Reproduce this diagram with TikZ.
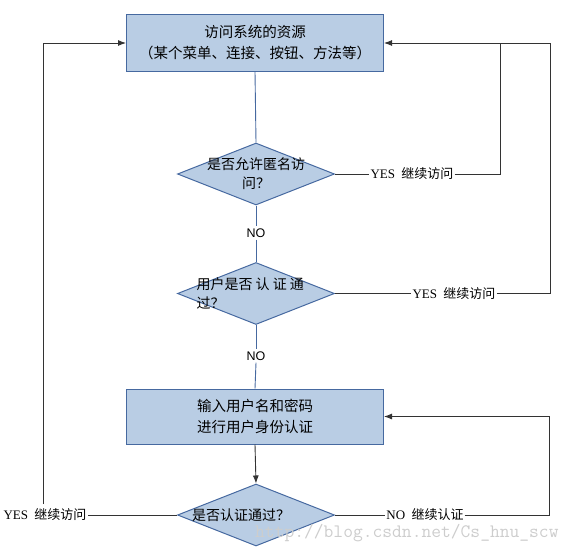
\documentclass[tikz,border=0pt]{standalone}
\usepackage{fontspec}
\setmainfont{Liberation Serif}
\setsansfont{Liberation Sans}
\newfontfamily\cjk{Noto Sans CJK SC}
\usetikzlibrary{shapes.geometric, positioning, calc, arrows.meta}
\definecolor{cFill}{RGB}{185,205,228}
\definecolor{cEdge}{RGB}{70,105,160}
\definecolor{cMark}{RGB}{205,205,205}

\tikzset{
    stepbox/.style={draw=cEdge, fill=cFill, line width=1pt, minimum width=257pt, minimum height=56pt, inner sep=0pt},
    ask/.style={draw=cEdge, fill=cFill, line width=1pt, diamond, minimum width=157pt, minimum height=62pt, inner sep=0pt},
    boxtext/.style={font=\cjk\fontsize{14.5}{21}\selectfont, align=center},
    asktext/.style={font=\cjk\fontsize{14}{19}\selectfont},
    tag/.style={font=\fontsize{13}{13}\selectfont, inner sep=1pt},
    notag/.style={font=\sffamily\fontsize{12.5}{12.5}\selectfont, inner sep=2pt},
    wire/.style={line width=0.9pt, draw=black!80},
    flow/.style={line width=0.9pt, draw=cEdge},
}

\begin{document}
\begin{tikzpicture}[x=1pt, y=-1pt, >={Latex[length=8pt,width=6pt]}]

    \useasboundingbox (0,0) rectangle (575,551);

    % --- Boxes ---
    \node[stepbox] (res) at (255, 43) {};
    \node[boxtext] at (res) {访问系统的资源\\（某个菜单、连接、按钮、方法等）};

    \node[stepbox, minimum height=55pt] (login) at (255, 416.5) {};
    \node[boxtext] at (login) {输入用户名和密码\\进行用户身份认证};

    % --- Decisions ---
    \node[ask] (anon) at (256, 174) {};
    \node[asktext, align=center] at (anon) {是否允许匿名访\\问？};

    \node[ask] (auth) at (256, 293.5) {};
    \node[asktext, align=left, anchor=west] at (193, 293) {用户是否 认 证 通\\过？};

    \node[ask] (check) at (256, 515) {};
    \node[asktext, anchor=center] at (241, 515) {是否认证通过？};

    % --- Labels ---
    \node[tag] (yes1) at (412, 174) {YES\hspace{3pt} {\cjk 继续访问}};
    \node[tag] (yes2) at (454, 293.5) {YES\hspace{3pt} {\cjk 继续访问}};
    \node[tag] (yes3) at (45, 515) {YES\hspace{3pt} {\cjk 继续访问}};
    \node[tag] (no3) at (425, 515) {NO\hspace{3pt} {\cjk 继续认证}};
    \node[notag] (no1) at (256, 233) {NO};
    \node[notag] (no2) at (256, 356) {NO};

    \coordinate (r1) at ([xshift=116]res.east);
    \coordinate (r2) at ([xshift=166]res.east);
    \coordinate (r3) at ([xshift=165]login.east);
    \coordinate (l1) at (43, 504);

    % --- Main flow ---
    \draw[flow] (res.south) -- (anon.north);
    \draw[flow] (anon.south) -- (no1.north);
    \draw[flow] (no1.south) -- (auth.north);
    \draw[flow] (auth.south) -- (no2.north);
    \draw[flow] (no2.south) -- (login.north);
    \draw[wire, ->] (login.south) -- (check.north);

    % --- Loops back ---
    \draw[wire] (anon.east) -- (yes1.west);
    \draw[wire] (yes1.east) -| (r1);
    \draw[wire] (auth.east) -- (yes2.west);
    \draw[wire, ->] (yes2.east) -| (r2) -- (res.east);
    \draw[wire] (check.west) -- (yes3.east);
    \draw[wire, ->] (l1) |- (res.west);
    \draw[wire] (check.east) -- (no3.west);
    \draw[wire, ->] (no3.east) -| (r3) -- (login.east);

    % --- Watermark ---
    \node[font=\ttfamily\fontsize{19}{19}\selectfont, text=cMark, anchor=west, inner sep=0pt] (mark) at (255, 533) {http://blog.csdn.net/Cs\_hnu\_scw};

\end{tikzpicture}
\end{document}
